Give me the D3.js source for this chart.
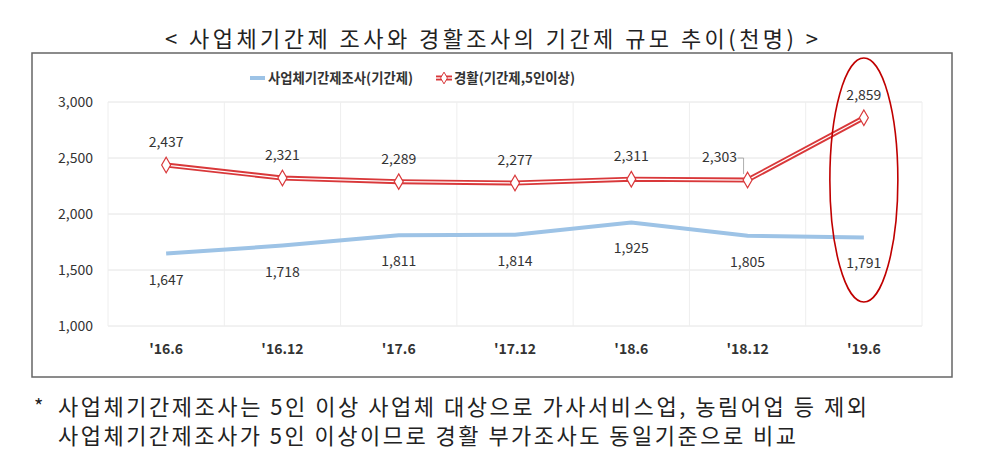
<!DOCTYPE html>
<html>
<head>
    <title></title>
    <meta charset="utf-8">
    <style>
        body { margin: 0; background: #fff; }
        text { font-family: "Noto Sans CJK KR", "Noto Sans", sans-serif; }
    </style>
</head>
<body>
<script src="https://cdn.jsdelivr.net/npm/d3@7"></script>
<script>
    // chart data (천명)
    var periods = ["'16.6", "'16.12", "'17.6", "'17.12", "'18.6", "'18.12", "'19.6"];
    var bizSurvey = [1647, 1718, 1811, 1814, 1925, 1805, 1791];   // 사업체기간제조사(기간제)
    var laborSurvey = [2437, 2321, 2289, 2277, 2311, 2303, 2859]; // 경활(기간제,5인이상)
    var yTicks = [1000, 1500, 2000, 2500, 3000];
    var notes = [
        "사업체기간제조사는 5인 이상 사업체 대상으로 가사서비스업, 농림어업 등 제외",
        "사업체기간제조사가 5인 이상이므로 경활 부가조사도 동일기준으로 비교"
    ];
    var noteWidths = [809, 738];

    var svg = d3.select('body').append('svg')
        .attr('width', 984)
        .attr('height', 460);

    // title
    svg.append('text')
        .attr('x', 165).attr('y', 47)
        .attr('textLength', 653)
        .attr('lengthAdjust', 'spacing')
        .style('font-size', '22px')
        .style('fill', '#222')
        .text('< 사업체기간제 조사와 경활조사의 기간제 규모 추이(천명) >');

    // chart frame
    svg.append('rect')
        .attr('x', 32).attr('y', 53)
        .attr('width', 920).attr('height', 324)
        .style('fill', '#fff')
        .style('stroke', '#666')
        .style('stroke-width', 1.5);

    var x = d3.scaleBand().domain(periods).range([108, 922]);
    var y = d3.scaleLinear().domain([1000, 3000]).range([326, 102]);

    // gridlines
    svg.append('g').selectAll('line').data(yTicks).enter().append('line')
        .attr('x1', 108).attr('x2', 922)
        .attr('y1', function (d) { return y(d); })
        .attr('y2', function (d) { return y(d); })
        .style('stroke', '#e4e4e4');
    svg.append('g').selectAll('line').data(periods.concat(['end'])).enter().append('line')
        .attr('x1', function (d, i) { return 108 + i * x.bandwidth(); })
        .attr('x2', function (d, i) { return 108 + i * x.bandwidth(); })
        .attr('y1', y(3000)).attr('y2', y(1000))
        .style('stroke', '#eeeeee');

    // axes
    var yAxis = svg.append('g')
        .attr('transform', 'translate(93,0)')
        .call(d3.axisLeft(y).tickValues(yTicks).tickSize(0).tickFormat(d3.format(',')));
    var xAxis = svg.append('g')
        .attr('transform', 'translate(0,' + y(1000) + ')')
        .call(d3.axisBottom(x).tickSize(0).tickPadding(18));
    svg.selectAll('.domain').remove();
    yAxis.selectAll('text').style('font-size', '14px').style('fill', '#333').attr('x', 0);
    xAxis.selectAll('text').style('font-size', '14px').style('fill', '#333').style('font-weight', 'bold');

    var cx = function (d, i) { return x(periods[i]) + x.bandwidth() / 2; };
    var line = d3.line().x(cx).y(function (d) { return y(d); });

    // blue series
    svg.append('path').datum(bizSurvey)
        .attr('d', line)
        .style('fill', 'none')
        .style('stroke', '#9dc3e6')
        .style('stroke-width', 4);

    // red double line
    svg.append('path').datum(laborSurvey)
        .attr('d', line)
        .style('fill', 'none')
        .style('stroke', '#d9383a')
        .style('stroke-width', 5);
    svg.append('path').datum(laborSurvey)
        .attr('d', line)
        .style('fill', 'none')
        .style('stroke', '#fff')
        .style('stroke-width', 1.3);

    var diamond = d3.symbol().type(d3.symbolDiamond).size(70);
    svg.append('g').selectAll('path').data(laborSurvey).enter().append('path')
        .attr('d', diamond)
        .attr('transform', function (d, i) { return 'translate(' + cx(d, i) + ',' + y(d) + ')'; })
        .style('fill', '#fff')
        .style('stroke', '#d9383a')
        .style('stroke-width', 1.2);

    // value labels
    var fmt = d3.format(',');
    svg.append('g').selectAll('text').data(laborSurvey).enter().append('text')
        .attr('x', function (d, i) { return i === 5 ? cx(d, i) - 28 : cx(d, i); })
        .attr('y', function (d) { return y(d) - 18; })
        .attr('text-anchor', 'middle')
        .style('font-size', '14px')
        .style('fill', '#333')
        .text(fmt);
    // leader for '18.12 label
    var lx = cx(laborSurvey[5], 5), ly = y(laborSurvey[5]);
    svg.append('path')
        .attr('d', 'M' + (lx - 10) + ',' + (ly - 22) + 'H' + (lx - 4) + 'V' + (ly - 6))
        .style('fill', 'none').style('stroke', '#999').style('stroke-width', 0.8);

    svg.append('g').selectAll('text').data(bizSurvey).enter().append('text')
        .attr('x', cx)
        .attr('y', function (d) { return y(d) + 31; })
        .attr('text-anchor', 'middle')
        .style('font-size', '14px')
        .style('fill', '#333')
        .text(fmt);

    // legend
    var lg = svg.append('g').attr('transform', 'translate(0,78)');
    lg.append('line').attr('x1', 250).attr('x2', 265).attr('y1', 0).attr('y2', 0)
        .style('stroke', '#9dc3e6').style('stroke-width', 4);
    lg.append('text').attr('x', 268).attr('y', 5)
        .attr('textLength', 145).attr('lengthAdjust', 'spacingAndGlyphs')
        .style('font-size', '14px').style('font-weight', 'bold').style('fill', '#333')
        .text('사업체기간제조사(기간제)');
    lg.append('line').attr('x1', 436).attr('x2', 452).attr('y1', 0).attr('y2', 0)
        .style('stroke', '#d9383a').style('stroke-width', 5);
    lg.append('line').attr('x1', 436).attr('x2', 452).attr('y1', 0).attr('y2', 0)
        .style('stroke', '#fff').style('stroke-width', 1.3);
    lg.append('path').attr('d', d3.symbol().type(d3.symbolDiamond).size(40))
        .attr('transform', 'translate(444,0)')
        .style('fill', '#fff').style('stroke', '#d9383a');
    lg.append('text').attr('x', 454).attr('y', 5)
        .attr('textLength', 121).attr('lengthAdjust', 'spacingAndGlyphs')
        .style('font-size', '14px').style('font-weight', 'bold').style('fill', '#333')
        .text('경활(기간제,5인이상)');

    // highlight ellipse on last period
    svg.append('ellipse')
        .attr('cx', cx(null, 6)).attr('cy', 180)
        .attr('rx', 34).attr('ry', 122)
        .style('fill', 'none')
        .style('stroke', '#c00000')
        .style('stroke-width', 1.6);

    // footnotes
    svg.append('text').attr('x', 34).attr('y', 414)
        .style('font-size', '20px').style('fill', '#222').text('*');
    svg.append('g').selectAll('text').data(notes).enter().append('text')
        .attr('x', 58)
        .attr('y', function (d, i) { return 415 + i * 29; })
        .attr('textLength', function (d, i) { return noteWidths[i]; })
        .attr('lengthAdjust', 'spacing')
        .style('font-size', '22px')
        .style('fill', '#222')
        .text(function (d) { return d; });
</script>
</body>
</html>
